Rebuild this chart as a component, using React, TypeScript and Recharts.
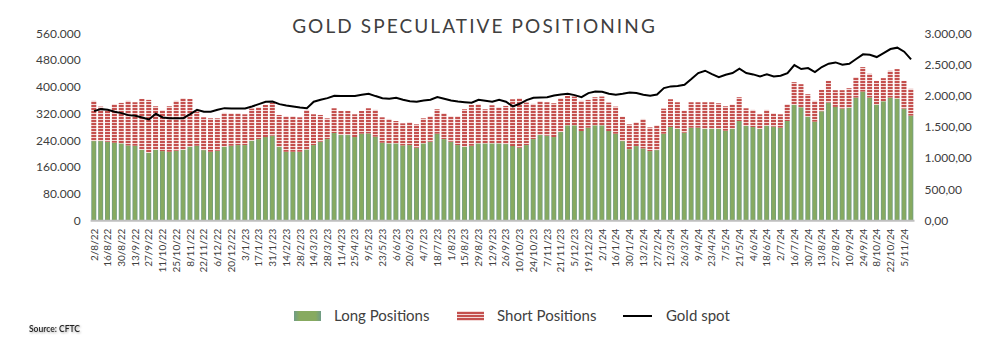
import React from 'react';
import { ComposedChart, Bar, Line, XAxis, YAxis } from 'recharts';

const dates = [
  '2/8/22','9/8/22','16/8/22','23/8/22','30/8/22','6/9/22','13/9/22','20/9/22','27/9/22','4/10/22',
  '11/10/22','18/10/22','25/10/22','1/11/22','8/11/22','15/11/22','22/11/22','29/11/22','6/12/22','13/12/22',
  '20/12/22','27/12/22',
  '3/1/23','10/1/23','17/1/23','24/1/23','31/1/23','7/2/23','14/2/23','21/2/23','28/2/23','7/3/23',
  '14/3/23','21/3/23','28/3/23','4/4/23','11/4/23','18/4/23','25/4/23','2/5/23','9/5/23','16/5/23',
  '23/5/23','30/5/23','6/6/23','13/6/23','20/6/23','27/6/23','4/7/23','11/7/23','18/7/23','25/7/23',
  '1/8/23','8/8/23','15/8/23','22/8/23','29/8/23','5/9/23','12/9/23','19/9/23','26/9/23','3/10/23',
  '10/10/23','17/10/23','24/10/23','31/10/23','7/11/23','14/11/23','21/11/23','28/11/23','5/12/23','12/12/23',
  '19/12/23','26/12/23',
  '2/1/24','9/1/24','16/1/24','23/1/24','30/1/24','6/2/24','13/2/24','20/2/24','27/2/24','5/3/24',
  '12/3/24','19/3/24','26/3/24','2/4/24','9/4/24','16/4/24','23/4/24','30/4/24','7/5/24','14/5/24',
  '21/5/24','28/5/24','4/6/24','11/6/24','18/6/24','25/6/24','2/7/24','9/7/24','16/7/24','23/7/24',
  '30/7/24','6/8/24','13/8/24','20/8/24','27/8/24','3/9/24','10/9/24','17/9/24','24/9/24','1/10/24',
  '8/10/24','15/10/24','22/10/24','29/10/24','5/11/24','12/11/24',
];

const longPositions = [
  238000, 238000, 236000, 233000, 231000, 225000, 224000, 212000, 203000, 212000,
  208000, 206000, 209000, 212000, 221000, 224000, 211000, 206000, 209000, 221000,
  224000, 226000, 226000, 239000, 244000, 250000, 254000, 221000, 206000, 206000,
  206000, 213000, 226000, 236000, 244000, 262000, 256000, 256000, 250000, 260000,
  261000, 251000, 233000, 231000, 231000, 225000, 226000, 218000, 231000, 236000,
  260000, 244000, 236000, 226000, 221000, 224000, 231000, 231000, 231000, 231000,
  229000, 223000, 218000, 226000, 244000, 256000, 254000, 250000, 265000, 285000,
  285000, 268000, 278000, 285000, 285000, 268000, 260000, 238000, 214000, 223000,
  216000, 208000, 211000, 260000, 280000, 274000, 263000, 278000, 278000, 274000,
  274000, 274000, 269000, 274000, 298000, 283000, 280000, 274000, 284000, 281000,
  278000, 298000, 346000, 339000, 311000, 296000, 327000, 353000, 340000, 335000,
  338000, 368000, 386000, 368000, 347000, 357000, 368000, 365000, 335000, 314000,
];

const shortPositions = [
  120000, 103000, 94000, 115000, 121000, 133000, 130000, 152000, 158000, 130000,
  122000, 136000, 149000, 154000, 143000, 102000, 98000, 100000, 97000, 101000,
  97000, 95000, 92000, 96000, 95000, 96000, 98000, 95000, 106000, 106000,
  103000, 118000, 92000, 80000, 62000, 74000, 72000, 72000, 68000, 68000,
  75000, 80000, 76000, 73000, 67000, 66000, 68000, 70000, 75000, 76000,
  73000, 77000, 76000, 86000, 112000, 122000, 117000, 102000, 114000, 108000,
  114000, 140000, 148000, 127000, 105000, 101000, 100000, 101000, 101000, 88000,
  86000, 90000, 83000, 84000, 86000, 85000, 81000, 73000, 74000, 71000,
  88000, 71000, 74000, 75000, 83000, 80000, 66000, 76000, 76000, 80000,
  80000, 77000, 73000, 73000, 71000, 53000, 51000, 44000, 47000, 40000,
  40000, 50000, 68000, 69000, 67000, 62000, 64000, 65000, 50000, 55000,
  58000, 61000, 73000, 71000, 71000, 69000, 80000, 88000, 83000, 80000,
];

const goldSpot = [
  1754, 1786, 1775, 1743, 1722, 1690, 1679, 1652, 1620, 1711,
  1652, 1642, 1642, 1642, 1706, 1775, 1743, 1743, 1775, 1802,
  1797, 1797, 1797, 1829, 1866, 1904, 1909, 1866, 1845, 1829,
  1813, 1802, 1904, 1936, 1962, 2000, 1995, 1995, 1995, 2016,
  2032, 1995, 1962, 1952, 1968, 1936, 1914, 1904, 1925, 1936,
  1978, 1952, 1925, 1909, 1898, 1888, 1936, 1920, 1904, 1936,
  1904, 1829, 1872, 1930, 1968, 1973, 1978, 2005, 2021, 2032,
  2010, 1978, 2043, 2069, 2064, 2032, 2016, 2032, 2053, 2043,
  2016, 2000, 2021, 2123, 2150, 2155, 2176, 2267, 2363, 2401,
  2347, 2299, 2337, 2363, 2433, 2363, 2342, 2310, 2342, 2310,
  2321, 2363, 2492, 2428, 2444, 2379, 2460, 2513, 2534, 2497,
  2513, 2588, 2663, 2657, 2620, 2684, 2748, 2770, 2706, 2583,
];

const leftTicks = [0, 80000, 160000, 240000, 320000, 400000, 480000, 560000];
const rightTicks = [0, 500, 1000, 1500, 2000, 2500, 3000];

const data = dates.map((d, i) => ({
  date: d,
  long: longPositions[i],
  short: shortPositions[i],
  gold: goldSpot[i],
}));

const groupThousands = (n: number) => {
  const s = Math.round(n).toString();
  return s.replace(/\B(?=(\d{3})+(?!\d))/g, '.');
};
const fmtLeft = (v: number) => groupThousands(v);
const fmtRight = (v: number) => groupThousands(v) + ',00';

const FONT = 'Lato, "Open Sans", sans-serif';
const TXT = '#404040';

const DateTick = (props: any) => {
  const { x, y, payload } = props;
  return (
    <g transform={`translate(${x},${y})`}>
      <text
        transform="rotate(-90)"
        textAnchor="end"
        dy="0.35em"
        fontSize={10}
        fontFamily={FONT}
        fill={TXT}
      >
        {payload.value}
      </text>
    </g>
  );
};

export default function App() {
  return (
    <div style={{ position: 'absolute', left: 0, top: 0, width: 1003, height: 356, background: '#fff' }}>
      <ComposedChart
        width={1003}
        height={356}
        data={data}
        margin={{ top: 33.3, right: 8.5, bottom: 105.3, left: 10.6 }}
        barCategoryGap="10%"
      >
        <defs>
          <linearGradient id="greenGrad" x1="0" y1="0" x2="1" y2="0">
            <stop offset="0%" stopColor="#6f9c86" />
            <stop offset="28%" stopColor="#87aa60" />
            <stop offset="72%" stopColor="#87aa60" />
            <stop offset="100%" stopColor="#6f9c86" />
          </linearGradient>
          <pattern id="redStripes" patternUnits="userSpaceOnUse" width="6" height="3">
            <rect x="0" y="0" width="6" height="3" fill="#f3d9d8" />
            <rect x="0" y="0" width="6" height="2" fill="#c4504e" />
          </pattern>
        </defs>
        <XAxis
          dataKey="date"
          interval={1}
          height={30}
          tickLine={false}
          axisLine={{ stroke: '#bfbfbf', strokeWidth: 2 }}
          tick={<DateTick />}
        />
        <YAxis
          yAxisId="left"
          orientation="left"
          width={80}
          domain={[0, 560000]}
          ticks={leftTicks}
          tickFormatter={fmtLeft}
          axisLine={false}
          tickLine={false}
          tickMargin={4}
          tick={{ fontSize: 12, fill: TXT, fontFamily: FONT }}
          interval={0}
        />
        <YAxis
          yAxisId="right"
          orientation="right"
          width={80}
          domain={[0, 3000]}
          ticks={rightTicks}
          tickFormatter={fmtRight}
          axisLine={false}
          tickLine={false}
          tickMargin={4}
          tick={{ fontSize: 12, fill: TXT, fontFamily: FONT }}
          interval={0}
        />
        <Bar yAxisId="left" dataKey="long" stackId="pos" fill="url(#greenGrad)" isAnimationActive={false} />
        <Bar yAxisId="left" dataKey="short" stackId="pos" fill="url(#redStripes)" isAnimationActive={false} />
        <Line
          yAxisId="right"
          dataKey="gold"
          type="linear"
          stroke="#000"
          strokeWidth={2}
          dot={false}
          activeDot={false}
          isAnimationActive={false}
        />
      </ComposedChart>
      <svg
        width={1003}
        height={356}
        style={{ position: 'absolute', left: 0, top: 0, pointerEvents: 'none' }}
      >
        <defs>
          <linearGradient id="greenGradL" x1="0" y1="0" x2="1" y2="0">
            <stop offset="0%" stopColor="#6f9c86" />
            <stop offset="20%" stopColor="#87aa60" />
            <stop offset="80%" stopColor="#87aa60" />
            <stop offset="100%" stopColor="#6f9c86" />
          </linearGradient>
          <pattern id="redStripesL" patternUnits="userSpaceOnUse" width="6" height="3">
            <rect x="0" y="0" width="6" height="3" fill="#f3d9d8" />
            <rect x="0" y="0" width="6" height="2" fill="#c4504e" />
          </pattern>
        </defs>
        <text
          x={474.5}
          y={33}
          textAnchor="middle"
          fontSize={19}
          letterSpacing={2.1}
          fontFamily={FONT}
          fill={TXT}
        >
          GOLD SPECULATIVE POSITIONING
        </text>
        <rect x={294} y={311} width={27} height={10} fill="url(#greenGradL)" />
        <text x={334} y={321} fontSize={15} fontFamily={FONT} fill={TXT}>Long Positions</text>
        <rect x={457} y={311} width={27} height={10} fill="url(#redStripesL)" />
        <text x={497} y={321} fontSize={15} fontFamily={FONT} fill={TXT}>Short Positions</text>
        <line x1={623} y1={316} x2={652} y2={316} stroke="#000" strokeWidth={2} />
        <text x={666} y={321} fontSize={15} fontFamily={FONT} fill={TXT}>Gold spot</text>
        <text
          x={29}
          y={332}
          fontSize={8.5}
          fontFamily={FONT}
          fontWeight={600}
          fill="#222"
          style={{ filter: 'drop-shadow(1px 1px 1px rgba(0,0,0,0.35))' }}
        >
          Source: CFTC
        </text>
      </svg>
    </div>
  );
}
